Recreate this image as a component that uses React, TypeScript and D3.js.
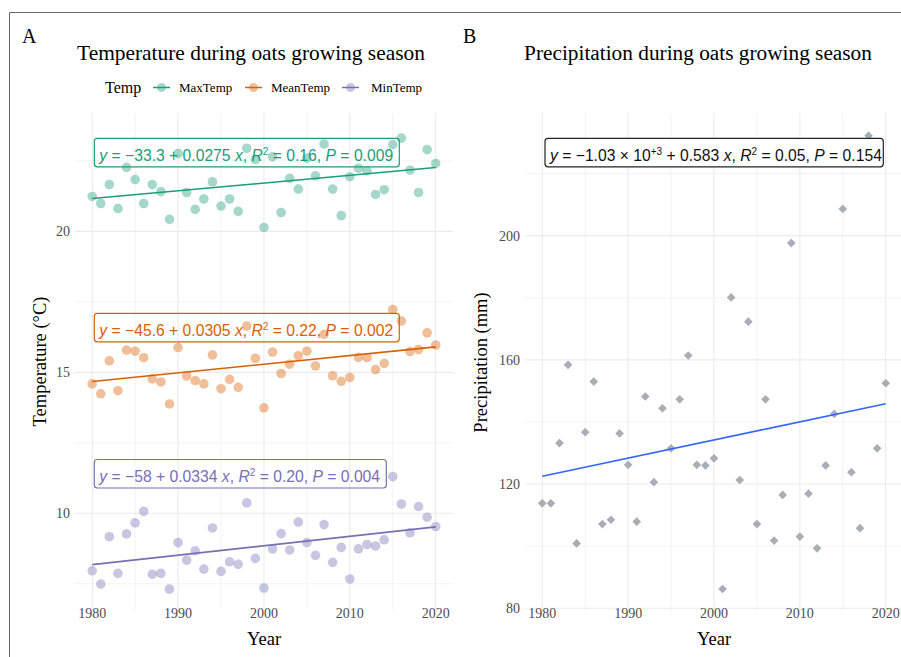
import React from 'react';
import * as d3 from 'd3';

// data
const years = [
  1980, 1981, 1982, 1983, 1984, 1985, 1986, 1987, 1988, 1989,
  1990, 1991, 1992, 1993, 1994, 1995, 1996, 1997, 1998, 1999,
  2000, 2001, 2002, 2003, 2004, 2005, 2006, 2007, 2008, 2009,
  2010, 2011, 2012, 2013, 2014, 2015, 2016, 2017, 2018, 2019, 2020,
];

const maxTemp = [
  21.24, 20.99, 21.66, 20.81, 22.27, 21.84, 20.99, 21.66, 21.41, 20.43,
  22.76, 21.38, 20.78, 21.15, 21.76, 20.9, 21.15, 20.71, 22.95, 22.55,
  20.14, 22.65, 20.67, 21.88, 21.5, 22.6, 21.97, 23.1, 21.5, 20.56,
  21.94, 22.24, 22.15, 21.31, 21.48, 23.08, 23.31, 22.17, 21.38, 22.9, 22.41,
];

const meanTemp = [
  14.59, 14.24, 15.41, 14.35, 15.79, 15.75, 15.52, 14.77, 14.66, 13.88,
  15.88, 14.87, 14.71, 14.59, 15.62, 14.42, 14.75, 14.47, 16.64, 15.5,
  13.74, 15.72, 14.96, 15.29, 15.59, 15.75, 15.23, 16.35, 14.88, 14.68,
  14.82, 15.53, 15.52, 15.1, 15.32, 17.23, 16.82, 15.74, 15.81, 16.4, 15.97,
];

const minTemp = [
  7.96, 7.49, 9.17, 7.87, 9.27, 9.66, 10.07, 7.84, 7.87, 7.31,
  8.96, 8.34, 8.67, 8.02, 9.48, 7.94, 8.28, 8.19, 10.37, 8.4,
  7.35, 8.74, 9.28, 8.7, 9.69, 8.96, 8.51, 9.6, 8.26, 8.79,
  7.67, 8.74, 8.89, 8.84, 9.06, 11.3, 10.33, 9.31, 10.24, 9.86, 9.53,
];

const precip = [
  113.8, 113.8, 133.2, 158.4, 100.9, 136.7, 153.0, 107.1, 108.5, 136.3,
  126.2, 107.9, 148.2, 120.6, 144.4, 131.5, 147.3, 161.4, 126.2, 126.0,
  128.3, 86.2, 180.1, 121.3, 172.3, 107.1, 147.3, 101.8, 116.5, 197.6,
  103.1, 116.9, 99.3, 126.0, 142.6, 208.6, 123.8, 105.8, 232.2, 131.5, 152.5,
];

const yearTicks = [1980, 1990, 2000, 2010, 2020];
const yearMinor = [1985, 1995, 2005, 2015];
const tempTicks = [10, 15, 20];
const tempMinor = [7.5, 12.5, 17.5, 22.5];
const precipTicks = [80, 120, 160, 200];
const precipMinor = [100, 140, 180, 220];

const tempSeries = ['MaxTemp', 'MeanTemp', 'MinTemp'];
const tempColors = ['#1B9E77', '#D95F02', '#7570B3'];
const tempEq = [
  { a: '\u221233.3', b: '0.0275', r2: '0.16', p: '0.009' },
  { a: '\u221245.6', b: '0.0305', r2: '0.22', p: '0.002' },
  { a: '\u221258', b: '0.0334', r2: '0.20', p: '0.004' },
];

const serif = '"Liberation Serif", "Times New Roman", serif';
const sans = '"Liberation Sans", Arial, sans-serif';
const grid = '#ebebeb';

function fit(xs: number[], ys: number[]) {
  const mx = d3.mean(xs) as number;
  const my = d3.mean(ys) as number;
  let sxy = 0, sxx = 0;
  xs.forEach((x, i) => { sxy += (x - mx) * (ys[i] - my); sxx += (x - mx) * (x - mx); });
  const b = sxy / sxx;
  return (x: number) => my + b * (x - mx);
}

const Grid = ({ x, y, xMajor, xMinor, yMajor, yMinor }: any) => {
  const [x0, x1] = x.range();
  const [y0, y1] = y.range();
  return (
    <g>
      {yMinor.map((v: number) => <line key={'ym' + v} x1={x0} x2={x1} y1={y(v)} y2={y(v)} stroke={grid} strokeWidth={0.6} />)}
      {xMinor.map((v: number) => <line key={'xm' + v} x1={x(v)} x2={x(v)} y1={y0} y2={y1} stroke={grid} strokeWidth={0.6} />)}
      {yMajor.map((v: number) => <line key={'y' + v} x1={x0} x2={x1} y1={y(v)} y2={y(v)} stroke={grid} strokeWidth={1.1} />)}
      {xMajor.map((v: number) => <line key={'x' + v} x1={x(v)} x2={x(v)} y1={y0} y2={y1} stroke={grid} strokeWidth={1.1} />)}
      {yMajor.map((v: number) => (
        <text key={'yl' + v} x={x0 - 5} y={y(v)} dy="0.35em" textAnchor="end" fontFamily={serif} fontSize={14} fill="#4d4d4d">{v}</text>
      ))}
      {xMajor.map((v: number) => (
        <text key={'xl' + v} x={x(v)} y={618} textAnchor="middle" fontFamily={serif} fontSize={14} fill="#4d4d4d">{v}</text>
      ))}
    </g>
  );
};

const EqBox = ({ x, y, w, color, children }: any) => (
  <g>
    <rect x={x} y={y} width={w} height={28.5} rx={3} fill="none" stroke={color} strokeWidth={1.2} />
    <text x={x + 5} y={y + 22.5} fontFamily={sans} fontSize={15.7} fill={color}>{children}</text>
  </g>
);

export default function App() {
  const xA = d3.scaleLinear().domain([1978, 2022]).range([75, 452.9]);
  const yA = d3.scaleLinear().domain([6.57, 24.2]).range([610, 113]);
  const xB = d3.scaleLinear().domain([1978, 2022]).range([525.1, 902.9]);
  const yB = d3.scaleLinear().domain([78.8, 239.5]).range([612, 113]);

  const temps = [maxTemp, meanTemp, minTemp];
  const boxY = [138.3, 313.3, 459.5];
  const boxW = [305, 305, 292];
  const legendX = [153, 245, 342];
  const legendTextX = [179, 271, 371];

  const diamond = d3.symbol().type(d3.symbolDiamond2).size(48)();
  const precipFit = fit(years, precip);

  return (
    <svg width={901} height={657} style={{ position: 'absolute', left: 0, top: 0, background: '#fff' }}>
      <line x1={9.5} x2={901} y1={12.5} y2={12.5} stroke="#666" strokeWidth={1} />
      <line x1={9.5} x2={9.5} y1={12.5} y2={657} stroke="#666" strokeWidth={1} />

      {/* Panel A */}
      <text x={22} y={43} fontFamily={serif} fontSize={20}>A</text>
      <text x={251} y={60} textAnchor="middle" fontFamily={serif} fontSize={21.4}>Temperature during oats growing season</text>
      <text x={105} y={93} fontFamily={serif} fontSize={16}>Temp</text>
      {tempSeries.map((s, i) => (
        <g key={s}>
          <line x1={legendX[i]} x2={legendX[i] + 17} y1={87.5} y2={87.5} stroke={tempColors[i]} strokeWidth={1.5} />
          <circle cx={legendX[i] + 8.5} cy={87.5} r={4.5} fill={tempColors[i]} fillOpacity={0.4} />
          <text x={legendTextX[i]} y={92} fontFamily={serif} fontSize={13}>{s}</text>
        </g>
      ))}
      <Grid x={xA} y={yA} xMajor={yearTicks} xMinor={yearMinor} yMajor={tempTicks} yMinor={tempMinor} />
      {temps.map((vals, i) => {
        const f = fit(years, vals);
        return (
          <g key={i}>
            {vals.map((v, j) => (
              <circle key={j} cx={xA(years[j])} cy={yA(v)} r={4.8} fill={tempColors[i]} fillOpacity={0.4} />
            ))}
            <line x1={xA(1980)} x2={xA(2020)} y1={yA(f(1980))} y2={yA(f(2020))} stroke={tempColors[i]} strokeWidth={1.6} />
            <EqBox x={94.3} y={boxY[i]} w={boxW[i]} color={tempColors[i]}>
              <tspan fontStyle="italic">y</tspan>{` = ${tempEq[i].a} + ${tempEq[i].b} `}<tspan fontStyle="italic">x</tspan>{', '}
              <tspan fontStyle="italic">R</tspan><tspan dy={-6} fontSize={10}>2</tspan><tspan dy={6}>{` = ${tempEq[i].r2}, `}</tspan>
              <tspan fontStyle="italic">P</tspan>{` = ${tempEq[i].p}`}
            </EqBox>
          </g>
        );
      })}
      <text transform={`translate(46,${(113 + 610) / 2}) rotate(-90)`} textAnchor="middle" fontFamily={serif} fontSize={18.5}>Temperature (°C)</text>
      <text x={264} y={645} textAnchor="middle" fontFamily={serif} fontSize={18.5}>Year</text>

      {/* Panel B */}
      <text x={463} y={43} fontFamily={serif} fontSize={20}>B</text>
      <text x={698} y={60} textAnchor="middle" fontFamily={serif} fontSize={21.3}>Precipitation during oats growing season</text>
      <Grid x={xB} y={yB} xMajor={yearTicks} xMinor={yearMinor} yMajor={precipTicks} yMinor={precipMinor} />
      {precip.map((v, j) => (
        <path key={j} d={diamond as string} transform={`translate(${xB(years[j])},${yB(v)})`} fill="#a9aeb6" />
      ))}
      <line x1={xB(1980)} x2={xB(2020)} y1={yB(precipFit(1980))} y2={yB(precipFit(2020))} stroke="#3366FF" strokeWidth={1.6} />
      <g>
        <rect x={545} y={138.3} width={338.3} height={28.5} rx={3} fill="#fff" stroke="#222" strokeWidth={1.2} />
        <text x={550} y={160.8} fontFamily={sans} fontSize={15.7} fill="#111">
          <tspan fontStyle="italic">y</tspan>{' = \u22121.03 \u00d7 10'}<tspan dy={-6} fontSize={10}>+3</tspan>
          <tspan dy={6}>{' + 0.583 '}</tspan><tspan fontStyle="italic">x</tspan>{', '}
          <tspan fontStyle="italic">R</tspan><tspan dy={-6} fontSize={10}>2</tspan><tspan dy={6}>{' = 0.05, '}</tspan>
          <tspan fontStyle="italic">P</tspan>{' = 0.154'}
        </text>
      </g>
      <text transform={`translate(487,${(113 + 612) / 2}) rotate(-90)`} textAnchor="middle" fontFamily={serif} fontSize={18.5}>Precipitation (mm)</text>
      <text x={714} y={645} textAnchor="middle" fontFamily={serif} fontSize={18.5}>Year</text>
    </svg>
  );
}
